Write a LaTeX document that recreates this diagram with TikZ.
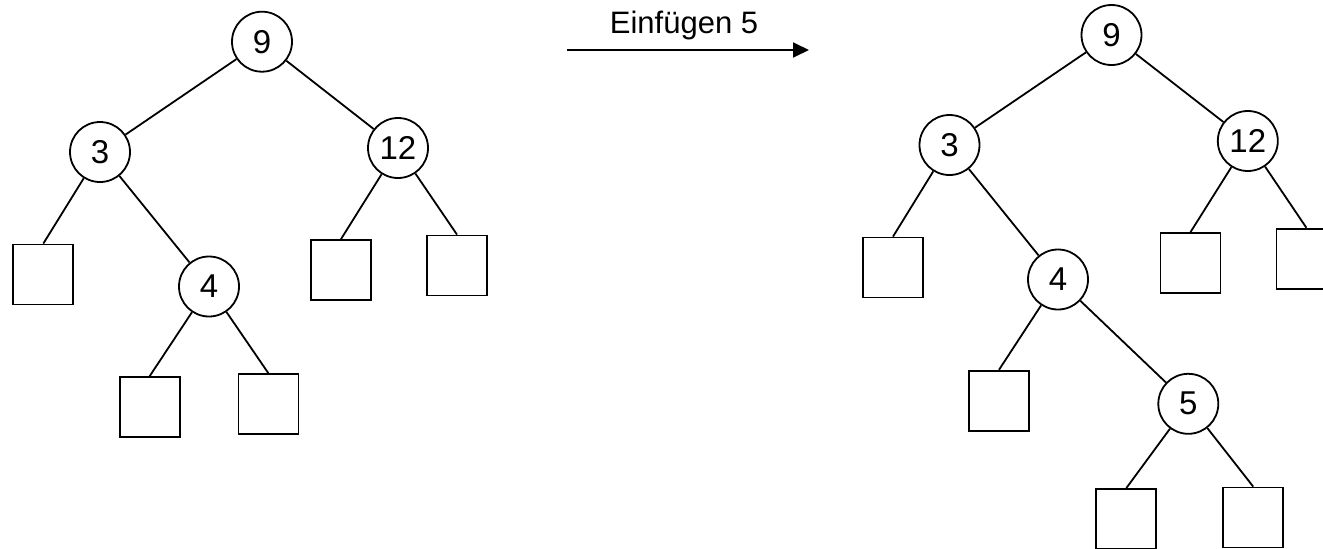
\documentclass[tikz,border=0pt]{standalone}
\usepackage{fontspec}
\setmainfont{Liberation Sans}
\usetikzlibrary{arrows.meta}
\begin{document}
\begin{tikzpicture}[x=1pt, y=-1pt,
  every node/.style={font=\fontsize{31}{37}\selectfont, inner sep=0pt},
  key/.style={circle, draw, line width=1.8pt, minimum size=60pt,
    font=\fontsize{33}{39}\selectfont},
  leaf/.style={rectangle, draw, line width=1.8pt, minimum size=60pt},
  edge/.style={line width=1.8pt}]
\useasboundingbox (0,0) rectangle (1323,549);
\clip (0,0) rectangle (1323,549);

% tree before the insertion
\node[key] (a9)  at (262,41.7)  {9};
\node[key] (a3)  at (100,152)   {3};
\node[key] (a12) at (398,148)   {12};
\node[key] (a4)  at (209,286.5) {4};
\node[leaf] (a3l)  at (43.3,274.5) {};
\node[leaf] (a4l)  at (149.7,407)  {};
\node[leaf] (a4r)  at (268.5,404.3) {};
\node[leaf] (a12l) at (341,270)    {};
\node[leaf] (a12r) at (457,265.5)  {};
\draw[edge] (a9) -- (a3);
\draw[edge] (a9) -- (a12);
\draw[edge] (a3) -- (a3l.north);
\draw[edge] (a3) -- (a4);
\draw[edge] (a4) -- (a4l.north);
\draw[edge] (a4) -- (a4r.north);
\draw[edge] (a12) -- (a12l.north);
\draw[edge] (a12) -- (a12r.north);

% operation arrow
\coordinate (opS) at (567.3,50);
\coordinate (opE) at (809,50);
\draw[edge, -{Triangle[length=16pt,width=15pt]}] (opS) -- (opE);
\node[anchor=base] (op) at (684,33.3) {Einfügen 5};

% tree after inserting 5
\node[key] (b9)  at (1111.5,35)   {9};
\node[key] (b3)  at (949.5,145)   {3};
\node[key] (b12) at (1247.8,141)  {12};
\node[key] (b4)  at (1058,279.5)  {4};
\node[key] (b5)  at (1188.3,403.8) {5};
\node[leaf] (b3l)  at (893,267.5)   {};
\node[leaf] (b4l)  at (999,400.7)   {};
\node[leaf] (b12l) at (1190.5,263)  {};
\node[leaf] (b12r) at (1306.4,258.7) {};
\node[leaf] (b5l)  at (1126.3,519)  {};
\node[leaf] (b5r)  at (1253.2,517.5) {};
\draw[edge] (b9) -- (b3);
\draw[edge] (b9) -- (b12);
\draw[edge] (b3) -- (b3l.north);
\draw[edge] (b3) -- (b4);
\draw[edge] (b4) -- (b4l.north);
\draw[edge] (b4) -- (b5);
\draw[edge] (b5) -- (b5l.north);
\draw[edge] (b5) -- (b5r.north);
\draw[edge] (b12) -- (b12l.north);
\draw[edge] (b12) -- (b12r.north);
\end{tikzpicture}
\end{document}
